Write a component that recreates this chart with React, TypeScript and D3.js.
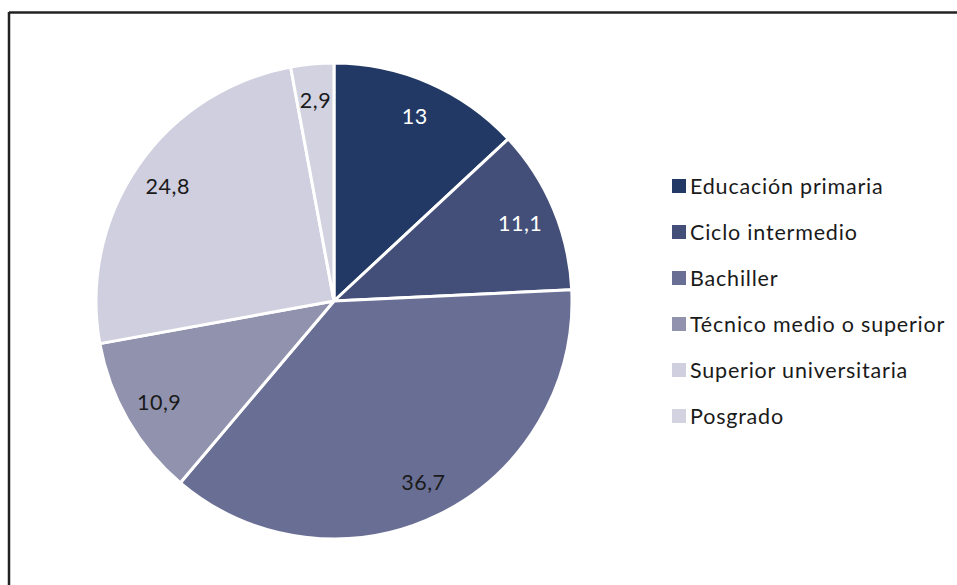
import React from "react";
import * as d3 from "d3";

const categories = [
  "Educación primaria",
  "Ciclo intermedio",
  "Bachiller",
  "Técnico medio o superior",
  "Superior universitaria",
  "Posgrado",
];
const values = [13, 11.1, 36.7, 10.9, 24.8, 2.9];
const labels = ["13", "11,1", "36,7", "10,9", "24,8", "2,9"];
const colors = ["#213964", "#434f79", "#696f94", "#9193ae", "#cfcfdf", "#d2d2e0"];
const labelColors = ["#ffffff", "#ffffff", "#1a1a1a", "#1a1a1a", "#1a1a1a", "#1a1a1a"];

const W = 957;
const H = 585;
const cx = 334;
const cy = 301;
const R = 238;
const FONT = "Lato, 'Open Sans', sans-serif";

export default function App() {
  const data = values.map((v, i) => ({ v, i }));
  const pie = d3.pie<{ v: number; i: number }>().value((d) => d.v).sort(null);
  const arcs = pie(data);
  const arc = d3.arc<d3.PieArcDatum<{ v: number; i: number }>>().innerRadius(0).outerRadius(R);
  const labelArc = d3.arc<d3.PieArcDatum<{ v: number; i: number }>>().innerRadius(202).outerRadius(202);
  const legendY = d3.scaleLinear().domain([0, 1]).range([186, 232]);

  return (
    <svg width={W} height={H} style={{ position: "absolute", left: 0, top: 0, background: "#fff" }}>
      <rect x={0} y={0} width={W} height={H} fill="#fff" />
      <line x1={9} y1={12.5} x2={W} y2={12.5} stroke="#222" strokeWidth={2.5} />
      <line x1={9} y1={12} x2={9} y2={H} stroke="#222" strokeWidth={2.5} />
      <g transform={`translate(${cx},${cy})`}>
        {arcs.map((a, k) => (
          <path key={k} d={arc(a) || ""} fill={colors[k]} stroke="#fff" strokeWidth={3} strokeLinejoin="round" />
        ))}
        {arcs.map((a, k) => {
          const [x, y] = labelArc.centroid(a);
          return (
            <text
              key={"l" + k}
              x={x}
              y={y}
              textAnchor="middle"
              dominantBaseline="central"
              fontFamily={FONT}
              fontSize={21.5}
              fill={labelColors[k]}
              letterSpacing={0.5}
            >
              {labels[k]}
            </text>
          );
        })}
      </g>
      <g>
        {categories.map((c, i) => (
          <g key={c} transform={`translate(672,${legendY(i)})`}>
            <rect x={0} y={-7} width={14} height={14} fill={colors[i]} />
            <text x={18} y={0} dominantBaseline="central" fontFamily={FONT} fontSize={21.5} fill="#1a1a1a" letterSpacing={0.8}>
              {c}
            </text>
          </g>
        ))}
      </g>
    </svg>
  );
}
